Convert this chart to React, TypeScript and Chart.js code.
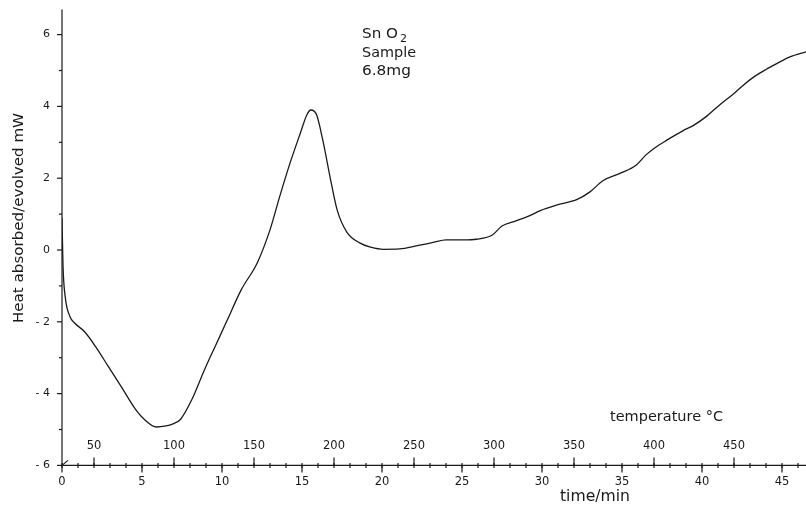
import React, { useEffect, useRef } from "react";
import { Chart, registerables } from "chart.js";

Chart.register(...registerables);

// Curve data (time in minutes, heat flow in mW)
const timeMin = [
  0, 0.06, 0.2, 0.5, 0.8, 1.4, 2.1, 2.9, 3.75, 4.55, 5.2, 5.9, 6.5, 6.9, 7.4, 8.1,
  8.9, 9.6, 10.3, 11.2, 12.2, 13.0, 13.6, 14.25, 14.9, 15.3, 15.55, 15.9, 16.3, 16.75,
  17.2, 17.8, 18.6, 19.3, 20.1, 21.1, 22.2, 23.2, 24.0, 25.1, 25.9, 26.9, 27.5, 28.3,
  29.2, 29.9, 30.9, 32.2, 33.0, 33.8, 34.9, 35.9, 36.5, 37.0, 37.8, 38.8, 39.5, 40.3,
  41.1, 42.0, 42.6, 43.2, 44.0, 44.7, 45.5, 46.5,
];
const heatMW = [
  0.9, -0.4, -1.3, -1.86, -2.04, -2.27, -2.69, -3.25, -3.84, -4.41, -4.74, -4.93, -4.9,
  -4.85, -4.72, -4.18, -3.34, -2.66, -1.98, -1.11, -0.36, 0.56, 1.48, 2.42, 3.26, 3.76,
  3.9, 3.78, 3.06, 2.04, 1.11, 0.5, 0.2, 0.08, 0.02, 0.03, 0.12, 0.21, 0.28, 0.28, 0.3,
  0.42, 0.67, 0.8, 0.95, 1.1, 1.25, 1.41, 1.62, 1.93, 2.14, 2.37, 2.65, 2.83, 3.06, 3.32,
  3.48, 3.73, 4.04, 4.36, 4.6, 4.81, 5.03, 5.2, 5.38, 5.52,
];

// Axis ticks
const yMajorTicks = [-6, -4, -2, 0, 2, 4, 6];
const yMinorTicks = [-5, -3, -1, 1, 3, 5];
const timeMajorTicks = [0, 5, 10, 15, 20, 25, 30, 35, 40, 45];
const timeMinorTicks = Array.from({ length: 47 }, (_, i) => i);
const tempTicks = [50, 100, 150, 200, 250, 300, 350, 400, 450];
// temperature = tempStart + heatingRate * time
const tempStart = 30;
const heatingRate = 10;

const annotationLines = ["Sn O", "Sample", "6.8mg"];
const yTitle = "Heat absorbed/evolved mW";
const xTitle = "time/min";
const tempTitle = "temperature °C";

const FONT = '"DejaVu Sans", "Liberation Sans", sans-serif';
const INK = "#1a1a1a";

function fitText(
  ctx: CanvasRenderingContext2D,
  text: string,
  x: number,
  y: number,
  width: number
) {
  const w = ctx.measureText(text).width;
  ctx.save();
  ctx.translate(x, y);
  ctx.scale(width / w, 1);
  ctx.textAlign = "left";
  ctx.fillText(text, 0, 0);
  ctx.restore();
}

const axesPlugin = {
  id: "dscAxes",
  afterDraw(chart: any) {
    const ctx: CanvasRenderingContext2D = chart.ctx;
    const xs = chart.scales.x;
    const ys = chart.scales.y;
    const x0 = xs.getPixelForValue(0);
    const yBase = ys.getPixelForValue(-6);
    const yTop = ys.getPixelForValue(ys.max);
    const xEnd = xs.getPixelForValue(xs.max);
    ctx.save();
    ctx.strokeStyle = INK;
    ctx.fillStyle = INK;
    ctx.lineWidth = 1.2;

    // axis lines
    ctx.beginPath();
    ctx.moveTo(x0, yTop);
    ctx.lineTo(x0, yBase);
    ctx.lineTo(xEnd, yBase);
    ctx.stroke();

    // little diagonal stroke at origin
    ctx.beginPath();
    ctx.moveTo(x0, yBase);
    ctx.lineTo(x0 + 6, yBase - 5);
    ctx.stroke();

    // y ticks
    ctx.font = `11px ${FONT}`;
    ctx.textAlign = "right";
    ctx.textBaseline = "middle";
    yMajorTicks.forEach((v) => {
      const py = ys.getPixelForValue(v);
      ctx.beginPath();
      ctx.moveTo(x0 - 5, py);
      ctx.lineTo(x0, py);
      ctx.stroke();
      ctx.fillText(v < 0 ? "- " + Math.abs(v) : String(v), x0 - 12, py);
    });
    yMinorTicks.forEach((v) => {
      const py = ys.getPixelForValue(v);
      ctx.beginPath();
      ctx.moveTo(x0 - 3, py);
      ctx.lineTo(x0, py);
      ctx.stroke();
    });

    // time ticks
    timeMinorTicks.forEach((t) => {
      if (t > xs.max) return;
      const px = xs.getPixelForValue(t);
      ctx.beginPath();
      ctx.moveTo(px, yBase - 2.5);
      ctx.lineTo(px, yBase + 2.5);
      ctx.stroke();
    });
    ctx.textAlign = "center";
    ctx.font = `11.5px ${FONT}`;
    timeMajorTicks.forEach((t) => {
      const px = xs.getPixelForValue(t);
      ctx.beginPath();
      ctx.moveTo(px, yBase);
      ctx.lineTo(px, yBase + 7);
      ctx.stroke();
      ctx.fillText(String(t), px, yBase + 17);
    });

    // temperature ticks
    tempTicks.forEach((T) => {
      const t = (T - tempStart) / heatingRate;
      const px = xs.getPixelForValue(t);
      ctx.beginPath();
      ctx.moveTo(px, yBase - 8);
      ctx.lineTo(px, yBase);
      ctx.stroke();
      ctx.fillText(String(T), px, yBase - 19);
    });

    // titles
    ctx.textBaseline = "middle";
    ctx.font = `15px ${FONT}`;
    fitText(ctx, xTitle, 560, 497, 70);
    ctx.font = `13.5px ${FONT}`;
    fitText(ctx, tempTitle, 610, 417, 113);

    ctx.save();
    ctx.translate(19, 218);
    ctx.rotate(-Math.PI / 2);
    ctx.font = `14px ${FONT}`;
    fitText(ctx, yTitle, -105, 0, 210);
    ctx.restore();

    // annotation
    ctx.font = `14px ${FONT}`;
    fitText(ctx, annotationLines[0], 362, 34, 36);
    ctx.font = `11px ${FONT}`;
    ctx.textAlign = "left";
    ctx.fillText("2", 400, 39);
    ctx.font = `14px ${FONT}`;
    fitText(ctx, annotationLines[1], 362, 53, 54);
    fitText(ctx, annotationLines[2], 362, 71, 49);

    ctx.restore();
  },
};

export default function App() {
  const ref = useRef<HTMLCanvasElement | null>(null);
  useEffect(() => {
    document.body.style.margin = "0";
    const canvas = ref.current;
    if (!canvas) return;
    const chart = new Chart(canvas, {
      type: "line",
      data: {
        datasets: [
          {
            data: timeMin.map((t, i) => ({ x: t, y: heatMW[i] })),
            borderColor: INK,
            borderWidth: 1.3,
            pointRadius: 0,
            fill: false,
            cubicInterpolationMode: "monotone",
          },
        ],
      },
      options: {
        animation: false,
        responsive: false,
        layout: { padding: { left: 62, right: 0, top: 9.5, bottom: 40.6 } },
        plugins: { legend: { display: false }, tooltip: { enabled: false } },
        scales: {
          x: { type: "linear", min: 0, max: 46.5, display: false },
          y: { type: "linear", min: -6, max: 6.7, display: false },
        },
      },
      plugins: [axesPlugin],
    });
    return () => chart.destroy();
  }, []);
  return (
    <div style={{ width: 806, height: 506, background: "#fff" }}>
      <canvas ref={ref} width={806} height={506} style={{ display: "block" }} />
    </div>
  );
}
